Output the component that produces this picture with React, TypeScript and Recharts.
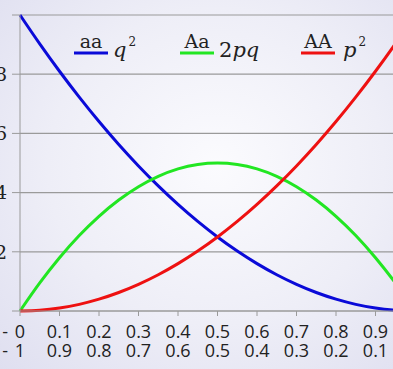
import { LineChart, Line, XAxis, YAxis, CartesianGrid, Legend } from "recharts";

// allele frequency p, with q = 1 - p
const p = [0, 0.05, 0.1, 0.15, 0.2, 0.25, 0.3, 0.35, 0.4, 0.45, 0.5, 0.55, 0.6, 0.65, 0.7, 0.75, 0.8, 0.85, 0.9, 0.95, 1];
const aa = [1, 0.9025, 0.81, 0.7225, 0.64, 0.5625, 0.49, 0.4225, 0.36, 0.3025, 0.25, 0.2025, 0.16, 0.1225, 0.09, 0.0625, 0.04, 0.0225, 0.01, 0.0025, 0];
const Aa = [0, 0.095, 0.18, 0.255, 0.32, 0.375, 0.42, 0.455, 0.48, 0.495, 0.5, 0.495, 0.48, 0.455, 0.42, 0.375, 0.32, 0.255, 0.18, 0.095, 0];
const AA = [0, 0.0025, 0.01, 0.0225, 0.04, 0.0625, 0.09, 0.1225, 0.16, 0.2025, 0.25, 0.3025, 0.36, 0.4225, 0.49, 0.5625, 0.64, 0.7225, 0.81, 0.9025, 1];

const genotypes = ["aa", "Aa", "AA"];
const xTicks = [0, 0.1, 0.2, 0.3, 0.4, 0.5, 0.6, 0.7, 0.8, 0.9, 1];
const pLabels = ["0", "0.1", "0.2", "0.3", "0.4", "0.5", "0.6", "0.7", "0.8", "0.9", "1"];
const qLabels = ["1", "0.9", "0.8", "0.7", "0.6", "0.5", "0.4", "0.3", "0.2", "0.1", "0"];
const yTicks = [0, 0.2, 0.4, 0.6, 0.8, 1];

const data = p.map((v, i) => ({ p: v, aa: aa[i], Aa: Aa[i], AA: AA[i] }));

const BLUE = "#0a0ad8";
const GREEN = "#22e622";
const RED = "#ee1111";

const legendX = [74, 180, 301];

function XTick(props: any) {
  const { x, y, payload } = props;
  const i = Math.round(payload.value * 10);
  const st = { fontFamily: "'Open Sans'", fontSize: 18, fill: "#222" };
  return (
    <g>
      <text x={x} y={y + 20} textAnchor="middle" {...st}>{pLabels[i]}</text>
      <text x={x} y={y + 39} textAnchor="middle" {...st}>{qLabels[i]}</text>
      {i === 0 && (
        <>
          <text x={x - 12} y={y + 20} textAnchor="end" {...st}>-</text>
          <text x={x - 12} y={y + 39} textAnchor="end" {...st}>-</text>
        </>
      )}
    </g>
  );
}

function MathLabel({ i, x }: { i: number; x: number }) {
  const st = { fontFamily: "'DejaVu Serif'", fontSize: 21, fill: "#222" };
  const sup = (s: string) => (
    <tspan fontSize={12} fontStyle="normal" dy={-11} dx={2}>{s}</tspan>
  );
  if (i === 0)
    return <text x={x} y={57} {...st}><tspan fontStyle="italic">q</tspan>{sup("2")}</text>;
  if (i === 1)
    return <text x={x} y={57} {...st}>2<tspan fontStyle="italic">pq</tspan></text>;
  return <text x={x} y={57} {...st}><tspan fontStyle="italic">p</tspan>{sup("2")}</text>;
}

function LegendContent(props: any) {
  const items = props.payload || [];
  return (
    <svg width={393} height={70}>
      {items.map((it: any) => {
        const i = genotypes.indexOf(it.value);
        return (
          <g key={it.value}>
            <text x={legendX[i] + 17} y={48} textAnchor="middle" fontFamily="'DejaVu Serif'" fontSize={19} fill="#222">
              {it.value}
            </text>
            <line x1={legendX[i]} x2={legendX[i] + 34} y1={53} y2={53} stroke={it.color} strokeWidth={3} />
            <MathLabel i={i} x={legendX[i] + (i === 2 ? 42 : 39)} />
          </g>
        );
      })}
    </svg>
  );
}

export default function App() {
  return (
    <div
      style={{
        position: "absolute",
        left: 0,
        top: 0,
        width: 393,
        height: 369,
        overflow: "hidden",
        background: "radial-gradient(ellipse at 55% 45%, #fbfbfe 0%, #eeeef7 55%, #dfdff0 100%)",
      }}
    >
      <div style={{ position: "absolute", left: -40, top: 0 }}>
        <LineChart width={470} height={369} data={data} margin={{ top: 15, right: 15, bottom: 0, left: 0 }}>
          <CartesianGrid vertical={false} stroke="#9a9a9a" strokeWidth={1.2} />
          <XAxis
            dataKey="p"
            type="number"
            domain={[0, 1]}
            ticks={xTicks}
            height={58}
            tickSize={5}
            tickMargin={2}
            stroke="#9a9a9a"
            tick={<XTick />}
            interval={0}
          />
          <YAxis
            type="number"
            domain={[0, 1]}
            ticks={yTicks}
            width={60}
            tickSize={8}
            tickMargin={5}
            stroke="#9a9a9a"
            tickFormatter={(v: number) => (v === 0 || v === 1 ? "" : String(v))}
            tick={{ fontFamily: "'DejaVu Serif'", fontSize: 19, fill: "#222" }}
          />
          <Legend
            layout="horizontal"
            verticalAlign="middle"
            wrapperStyle={{ left: 40, top: 0, width: 393, height: 70 }}
            content={<LegendContent />}
          />
          <Line type="monotone" dataKey="aa" name="aa" stroke={BLUE} strokeWidth={3} dot={false} isAnimationActive={false} />
          <Line type="monotone" dataKey="Aa" name="Aa" stroke={GREEN} strokeWidth={3} dot={false} isAnimationActive={false} />
          <Line type="monotone" dataKey="AA" name="AA" stroke={RED} strokeWidth={3} dot={false} isAnimationActive={false} />
        </LineChart>
      </div>
    </div>
  );
}
